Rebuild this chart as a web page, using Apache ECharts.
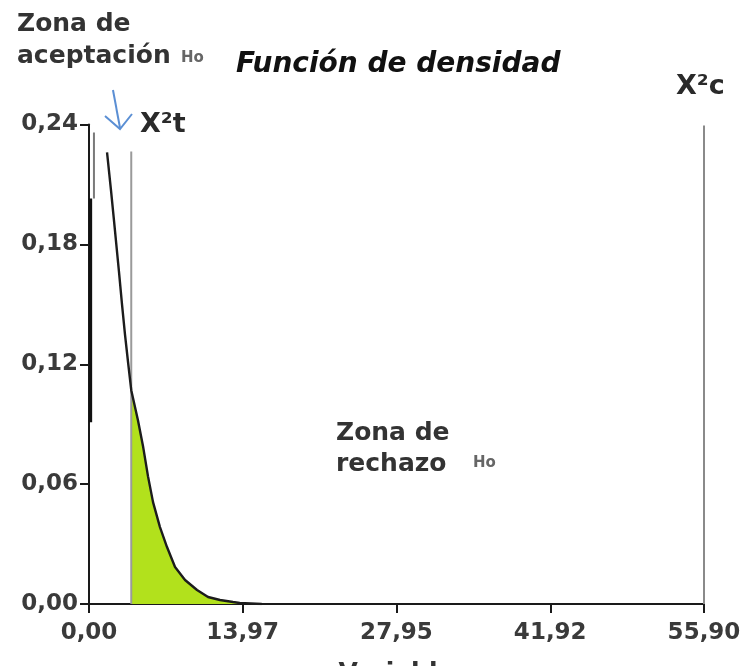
<!DOCTYPE html>
<html>
<head>
<meta charset="utf-8">
<script src="https://cdn.jsdelivr.net/npm/echarts@6/dist/echarts.min.js"></script>
<style>
  html, body { margin: 0; padding: 0; background: #ffffff; }
  #chart { width: 746px; height: 666px; }
</style>
</head>
<body>
<div id="chart"></div>
<script>
// Sampled chi-square density (x, f(x))
const curveX = [1.64, 2.00, 2.27, 2.73, 3.00, 3.27, 3.55, 3.84, 4.45, 4.91, 5.36, 5.82, 6.45, 7.09, 7.82, 8.73, 9.82, 10.82, 11.91, 13.09, 13.70, 15.70];
const curveY = [0.226, 0.207, 0.192, 0.166, 0.150, 0.135, 0.121, 0.107, 0.092, 0.079, 0.064, 0.051, 0.0385, 0.0285, 0.0185, 0.012, 0.007, 0.0035, 0.002, 0.001, 0.0005, 0.0];

// Steep part of the density right next to the origin
const headX = [0.15, 0.15];
const headY = [0.091, 0.203];
const headGreyX = [0.45, 0.45];
const headGreyY = [0.203, 0.236];

// Critical (table) and calculated chi-square values
const chiTable = 3.84;
const chiTableTop = 0.2265;
const chiCalc = 55.90;
const chiCalcTop = 0.2395;

// Axis tick labels
const xTickLabels = ['0,00', '13,97', '27,95', '41,92', '55,90'];
const yTickLabels = ['0,00', '0,06', '0,12', '0,18', '0,24'];

const xMax = 55.90;
const xStep = xMax / 4;
const yMax = 0.24;
const yStep = 0.06;

const pairs = (xs, ys) => xs.map((x, i) => [x, ys[i]]);
const curve = pairs(curveX, curveY);
const rejection = curve.filter(p => p[0] >= chiTable);

const FONT = 'DejaVu Sans';
const chart = echarts.init(document.getElementById('chart'), null, { renderer: 'canvas' });

chart.setOption({
  animation: false,
  backgroundColor: '#ffffff',
  title: {
    text: 'Función de densidad',
    left: 231,
    top: 46,
    textStyle: { fontFamily: FONT, fontSize: 28, fontWeight: 'bold', fontStyle: 'italic', color: '#111' }
  },
  grid: { left: 89, right: 42, top: 124.5, bottom: 62, containLabel: false, outerBoundsMode: 'none' },
  xAxis: {
    type: 'value',
    min: 0,
    max: xMax,
    interval: xStep,
    name: 'Variable',
    nameLocation: 'middle',
    nameGap: 57,
    nameTextStyle: { fontFamily: FONT, fontSize: 25, fontWeight: 'bold', color: '#333' },
    splitLine: { show: false },
    axisLine: { lineStyle: { color: '#1a1a1a', width: 2 } },
    axisTick: { length: 9, lineStyle: { color: '#1a1a1a', width: 2 } },
    axisLabel: {
      margin: 18,
      fontFamily: FONT, fontSize: 23, fontWeight: 'bold', color: '#3a3a3a',
      formatter: v => xTickLabels[Math.round(v / xStep)] ?? ''
    }
  },
  yAxis: {
    type: 'value',
    min: 0,
    max: yMax,
    interval: yStep,
    splitLine: { show: false },
    axisLine: { show: true, lineStyle: { color: '#1a1a1a', width: 2 } },
    axisTick: { show: true, length: 9, lineStyle: { color: '#1a1a1a', width: 2 } },
    axisLabel: {
      margin: 11,
      fontFamily: FONT, fontSize: 23, fontWeight: 'bold', color: '#3a3a3a',
      formatter: v => yTickLabels[Math.round(v / yStep)] ?? ''
    }
  },
  series: [
    {
      name: 'rechazo',
      type: 'line',
      data: rejection,
      showSymbol: false,
      lineStyle: { width: 0 },
      areaStyle: { color: '#b2e11c', opacity: 1 },
      z: 2
    },
    {
      name: 'X2t',
      type: 'line',
      data: [[chiTable, 0], [chiTable, chiTableTop]],
      showSymbol: false,
      lineStyle: { color: '#9a9a9a', width: 2 },
      z: 3
    },
    {
      name: 'X2c',
      type: 'line',
      data: [[chiCalc, 0], [chiCalc, chiCalcTop]],
      showSymbol: false,
      lineStyle: { color: '#8a8a8a', width: 2 },
      z: 3
    },
    {
      name: 'densidad',
      type: 'line',
      data: curve,
      showSymbol: false,
      lineStyle: { color: '#1c1c1c', width: 2.4 },
      z: 4
    },
    {
      name: 'densidad-origen',
      type: 'line',
      data: pairs(headX, headY),
      showSymbol: false,
      lineStyle: { color: '#111', width: 3 },
      z: 4
    },
    {
      name: 'densidad-origen-2',
      type: 'line',
      data: pairs(headGreyX, headGreyY),
      showSymbol: false,
      lineStyle: { color: '#7a7a7a', width: 2 },
      z: 4
    }
  ],
  graphic: [
    { type: 'text', left: 17, top: 12, style: { text: 'Zona de', font: `bold 25px "${FONT}"`, fill: '#333' } },
    { type: 'text', left: 17, top: 44, style: { text: 'aceptación', font: `bold 25px "${FONT}"`, fill: '#333' } },
    { type: 'text', left: 181, top: 51, style: { text: 'Ho', font: `bold 15px "${FONT}"`, fill: '#666' } },
    {
      type: 'polyline',
      shape: { points: [[113, 90], [120, 128]] },
      style: { stroke: '#5b8fd4', lineWidth: 2, fill: null }
    },
    {
      type: 'polyline',
      shape: { points: [[105, 116], [120, 129], [132, 114]] },
      style: { stroke: '#5b8fd4', lineWidth: 2, fill: null }
    },
    { type: 'text', left: 140, top: 111, style: { text: 'X²t', font: `bold 27px "${FONT}"`, fill: '#2a2a2a' } },
    { type: 'text', left: 676, top: 73, style: { text: 'X²c', font: `bold 27px "${FONT}"`, fill: '#2a2a2a' } },
    { type: 'text', left: 336, top: 421, style: { text: 'Zona de', font: `bold 25px "${FONT}"`, fill: '#333' } },
    { type: 'text', left: 336, top: 452, style: { text: 'rechazo', font: `bold 25px "${FONT}"`, fill: '#333' } },
    { type: 'text', left: 473, top: 456, style: { text: 'Ho', font: `bold 15px "${FONT}"`, fill: '#666' } }
  ]
});
</script>
</body>
</html>
